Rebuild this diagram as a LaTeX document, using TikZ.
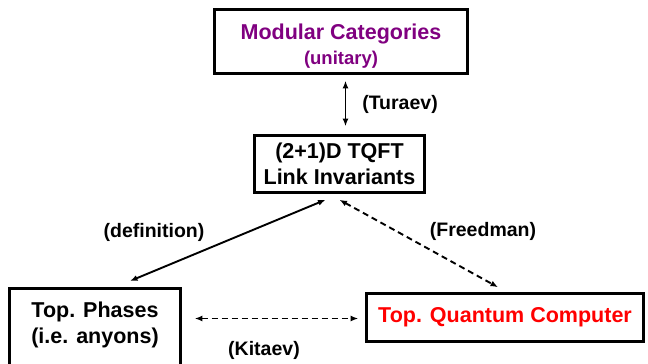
\documentclass[tikz,border=0pt]{standalone}
\usepackage{fontspec}
\setmainfont{Liberation Sans}
\usetikzlibrary{arrows.meta,calc}
\definecolor{catpurple}{RGB}{128,0,128}
\definecolor{qcred}{RGB}{255,0,0}

\begin{document}
\begin{tikzpicture}[x=1pt,y=-1pt,
    box/.style={draw,line width=2.6pt,inner sep=0pt,align=center,
      font=\bfseries\fontsize{21.5}{26}\selectfont},
    boxtext/.style={align=center,font=\bfseries\fontsize{21.5}{26}\selectfont},
    lbl/.style={font=\bfseries\fontsize{19.5}{22}\selectfont},
    link/.style={line width=1.9pt,>={Latex[length=7.5pt,width=6pt]},<->},
    dlink/.style={link,dash pattern=on 6pt off 4pt}]
  \useasboundingbox (0,0) rectangle (648,364);
  \clip (0,0) rectangle (648,364);

  % the four boxes
  \node[box,minimum width=253,minimum height=64](mod) at (341,41.5) {};
  \node[boxtext,text=catpurple](modtext) at (341,46)
    {Modular Categories\\[-1pt]{\fontsize{18.5}{22}\selectfont(unitary)}};
  \node[box,minimum width=170,minimum height=57](tqft) at (339.5,164)
    {(2+1)D TQFT\\Link Invariants};
  \node[box,minimum width=171,minimum height=90,anchor=north](phases) at (95,287) {};
  \node[boxtext](phasestext) at (95,325) {Top. Phases\\(i.e. anyons)};
  \node[box,minimum width=277,minimum height=48,text=qcred](qc) at (505,317.5)
    {Top. Quantum Computer};

  % arrows between them
  \draw[link] ([shift={(4.5,6)}]mod.south) -- ([shift={(6,-8)}]tqft.north);
  \draw[link] ([shift={(-14,6)}]tqft.south) -- ([shift={(35,-6)}]phases.north);
  \draw[dlink] ([shift={(0,6)}]tqft.south) -- ([shift={(-7,-5)}]qc.north);
  \draw[dlink] ($(phases.east |- qc.west)+(13,1)$) -- ($(qc.west)+(-7,1)$);

  \node[lbl](turaev) at (400,104) {(Turaev)};
  \node[lbl](definition) at (154,232) {(definition)};
  \node[lbl](freedman) at (483,231) {(Freedman)};
  \node[lbl](kitaev) at (264,350) {(Kitaev)};
\end{tikzpicture}
\end{document}
